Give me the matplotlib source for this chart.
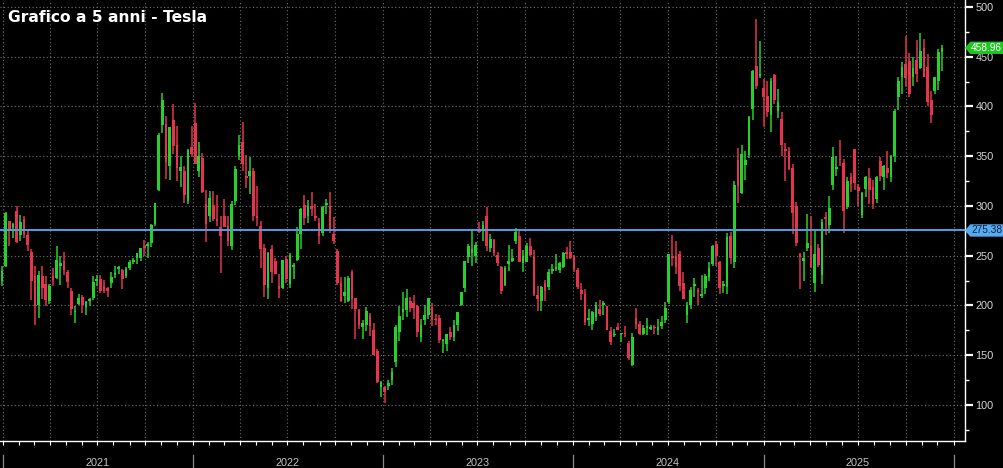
import numpy as np
import pandas as pd
import matplotlib
matplotlib.use("Agg")
import matplotlib.pyplot as plt
import matplotlib.dates as mdates
from matplotlib.patches import Polygon
from matplotlib.transforms import blended_transform_factory

# weekly candles (open, high, low, close)
ohlc_2020 = [(213, 232, 209, 232), (224, 225, 209, 220), (225, 240, 220, 235)]

ohlc_2021 = [
    (240, 294, 239, 293), (285, 285, 260, 275), (279, 283, 268, 282), (295, 300, 263, 264),
    (271, 291, 265, 284), (287, 290, 268, 272), (271, 276, 255, 261), (254, 257, 206, 225),
    (230, 240, 180, 199), (200, 235, 187, 231), (230, 240, 207, 218), (222, 230, 199, 206),
    (205, 222, 201, 220), (230, 238, 220, 226), (228, 260, 227, 246), (240, 250, 221, 243),
    (245, 254, 231, 236), (234, 236, 218, 224), (215, 218, 190, 196), (193, 199, 182, 193),
    (201, 212, 200, 208), (209, 211, 192, 200), (198, 205, 190, 203), (204, 208, 199, 207),
    (208, 230, 206, 224), (225, 231, 220, 226), (227, 231, 213, 215), (220, 226, 213, 215),
    (218, 219, 209, 215), (223, 234, 218, 229), (231, 240, 228, 233), (237, 240, 232, 239),
    (236, 237, 217, 227), (230, 239, 228, 237), (238, 246, 236, 244), (244, 248, 242, 245),
    (248, 253, 242, 253), (248, 258, 245, 258), (260, 266, 250, 258), (260, 264, 248, 262),
    (263, 282, 259, 281), (282, 303, 280, 303), (316, 373, 315, 371), (381, 414, 373, 407),
    (382, 390, 327, 344), (340, 379, 326, 379), (386, 402, 352, 360), (361, 380, 325, 338),
    (335, 350, 319, 339), (335, 340, 303, 311), (305, 357, 302, 356), (359, 380, 349, 352),
]

ohlc_2022 = [
    (383, 403, 342, 342), (335, 364, 329, 350), (348, 353, 313, 314), (302, 316, 264, 282),
    (290, 315, 284, 308), (301, 315, 285, 287), (287, 311, 280, 285), (279, 290, 233, 270),
    (290, 307, 279, 279), (280, 290, 260, 265), (260, 305, 256, 302), (305, 340, 301, 337),
    (350, 371, 346, 361), (364, 384, 335, 342), (330, 351, 318, 328), (330, 349, 312, 335),
    (335, 338, 285, 290), (290, 320, 280, 288), (280, 285, 238, 257), (258, 262, 209, 221),
    (218, 254, 207, 253), (257, 261, 223, 234), (245, 248, 232, 232), (220, 232, 208, 217),
    (218, 246, 217, 246), (247, 250, 223, 227), (222, 253, 218, 251), (239, 243, 227, 240),
    (246, 279, 245, 272), (272, 298, 257, 297), (301, 311, 281, 288), (290, 306, 283, 300),
    (300, 314, 290, 297), (290, 302, 285, 288), (283, 288, 262, 270), (273, 300, 270, 299),
    (301, 307, 292, 303), (300, 314, 273, 275), (272, 289, 262, 265), (255, 257, 221, 223),
    (223, 229, 203, 204), (210, 229, 202, 214), (205, 230, 203, 228), (234, 236, 196, 207),
    (208, 208, 166, 196), (195, 196, 176, 180), (178, 185, 166, 182), (180, 198, 174, 194),
    (190, 192, 169, 179), (175, 182, 150, 150), (154, 156, 122, 123), (118, 124, 108, 123),
]

ohlc_2023 = [
    (118, 119, 102, 113), (119, 125, 115, 122), (125, 137, 120, 133), (143, 180, 138, 178),
    (173, 199, 164, 189), (193, 214, 185, 196), (195, 217, 188, 208), (204, 209, 193, 197),
    (202, 211, 186, 197), (199, 200, 168, 173), (168, 186, 163, 180), (185, 200, 180, 190),
    (190, 208, 186, 208), (198, 202, 179, 185), (186, 191, 180, 185), (187, 190, 162, 165),
    (164, 166, 152, 164), (161, 171, 154, 171), (173, 178, 165, 168), (168, 185, 164, 180),
    (180, 193, 174, 193), (200, 214, 199, 214), (218, 245, 214, 245), (249, 262, 243, 260),
    (253, 276, 240, 257), (250, 264, 243, 261), (277, 284, 273, 274), (276, 285, 265, 281),
    (290, 299, 255, 260), (258, 272, 254, 267), (266, 267, 250, 253), (251, 254, 240, 243),
    (239, 240, 212, 215), (221, 240, 220, 238), (242, 261, 235, 245), (245, 257, 244, 248),
    (265, 278, 262, 274), (270, 275, 244, 244), (243, 256, 234, 250), (244, 263, 244, 260),
    (260, 268, 250, 251), (250, 256, 210, 212), (211, 220, 194, 207), (204, 220, 194, 219),
    (223, 226, 205, 215), (219, 237, 216, 234), (235, 242, 232, 235), (237, 252, 235, 238),
    (236, 244, 233, 243), (239, 254, 238, 253), (254, 259, 247, 252), (254, 265, 247, 248),
]

ohlc_2024 = [
    (250, 251, 234, 237), (236, 238, 217, 219), (216, 223, 206, 212), (212, 217, 180, 183),
    (185, 196, 179, 187), (181, 194, 175, 193), (188, 203, 184, 200), (196, 206, 189, 191),
    (200, 205, 190, 202), (199, 199, 175, 175), (174, 178, 160, 163), (170, 176, 168, 170),
    (178, 182, 175, 175), (171, 171, 163, 171), (172, 179, 168, 171), (162, 164, 145, 147),
    (140, 172, 139, 168), (187, 197, 176, 181), (181, 184, 170, 171), (171, 180, 170, 177),
    (177, 187, 170, 179), (176, 180, 175, 178), (178, 180, 171, 177), (175, 186, 170, 178),
    (179, 189, 176, 183), (185, 203, 182, 197), (203, 252, 201, 252), (250, 271, 240, 248),
    (250, 265, 232, 239), (252, 255, 215, 220), (223, 234, 207, 207), (190, 203, 182, 200),
    (200, 219, 196, 216), (220, 228, 209, 220), (215, 218, 200, 214), (210, 231, 208, 210),
    (218, 232, 212, 230), (229, 244, 225, 238), (242, 261, 240, 260), (262, 265, 240, 250),
    (244, 245, 212, 218), (220, 225, 213, 221), (219, 273, 212, 269), (270, 274, 242, 248),
    (244, 325, 238, 321), (346, 358, 303, 320), (313, 361, 312, 352), (341, 355, 326, 346),
    (351, 390, 348, 389), (397, 437, 386, 436), (441, 488, 418, 421), (431, 466, 429, 431),
    (419, 428, 379, 410),
]

ohlc_2025 = [
    (411, 426, 389, 394), (391, 429, 374, 426), (432, 433, 402, 406), (395, 418, 388, 404),
    (387, 394, 350, 361), (357, 363, 325, 355), (355, 359, 336, 337), (338, 342, 272, 293),
    (300, 304, 260, 263), (252, 253, 217, 249), (245, 254, 225, 248), (258, 292, 255, 263),
    (260, 290, 238, 239), (223, 275, 214, 252), (258, 262, 239, 241), (231, 287, 222, 284),
    (288, 294, 271, 287), (281, 310, 273, 298), (321, 359, 316, 349), (337, 350, 330, 339),
    (347, 366, 340, 346), (343, 347, 273, 295), (299, 329, 297, 325), (329, 333, 314, 322),
    (357, 357, 316, 323), (319, 322, 300, 315), (291, 314, 288, 313), (317, 330, 309, 329),
    (328, 338, 302, 316), (319, 326, 297, 302), (307, 330, 303, 329), (345, 349, 325, 330),
    (329, 341, 316, 340), (338, 355, 328, 333), (329, 351, 324, 350), (350, 397, 344, 395),
    (410, 430, 396, 426), (430, 445, 413, 440), (443, 471, 420, 429), (446, 454, 410, 413),
    (430, 450, 421, 439), (447, 467, 425, 433), (439, 474, 438, 456), (459, 468, 430, 430),
    (440, 453, 400, 404), (406, 416, 383, 391), (416, 430, 413, 430), (426, 458, 417, 455),
    (455, 462, 436, 459),
]

# first Monday of each block of weeks
block_starts = ["2020-12-14", "2021-01-04", "2022-01-03", "2023-01-02", "2024-01-01", "2025-01-06"]
blocks = [ohlc_2020, ohlc_2021, ohlc_2022, ohlc_2023, ohlc_2024, ohlc_2025]

last_price = 458.96
ref_level = 275.38
years = [2021, 2022, 2023, 2024, 2025]
title = "Grafico a 5 anni - Tesla"

GREEN = "#26d12a"
RED = "#e5344c"
BLUE = "#4f9fe8"
TXT = "#d6d6d6"

# build the weekly table
frames = []
for start, rows in zip(block_starts, blocks):
    df = pd.DataFrame(rows, columns=["open", "high", "low", "close"])
    df["date"] = pd.date_range(start, periods=len(rows), freq="W-MON") + pd.Timedelta(days=2)
    frames.append(df)
data = pd.concat(frames, ignore_index=True)
x = mdates.date2num(data["date"])
up = data["close"] >= data["open"]
colors = np.where(up, GREEN, RED)

fig = plt.figure(figsize=(10.04, 4.68), dpi=100, facecolor="black")
ax = fig.add_axes([0, 1 - 441 / 468, 965 / 1004, 441 / 468], facecolor="black")

# candles
ax.vlines(x, data["low"], data["high"], colors=colors, linewidth=1.1, zorder=3)
body = (data["close"] - data["open"]).abs().clip(lower=1.5)
ax.bar(x, body, bottom=np.minimum(data["open"], data["close"]), width=5.2,
       color=colors, linewidth=0, zorder=3)

ax.axhline(ref_level, color=BLUE, linewidth=1.4, zorder=4)

# axes limits
x0 = mdates.date2num(pd.Timestamp("2020-12-26"))
x1 = mdates.date2num(pd.Timestamp("2026-01-23"))
ax.set_xlim(x0, x1)
ax.set_ylim(63.8, 507)

# spines
for s in ["top", "left"]:
    ax.spines[s].set_visible(False)
for s in ["right", "bottom"]:
    ax.spines[s].set_color("white")
    ax.spines[s].set_linewidth(1.0)

# y axis on the right
ax.yaxis.tick_right()
ax.set_yticks(np.arange(100, 501, 50))
ax.set_yticks(np.arange(75, 501, 25), minor=True)
ax.tick_params(axis="y", which="major", length=6, width=1.6, color="white",
               labelcolor=TXT, labelsize=7.8, pad=1.5)
ax.tick_params(axis="y", which="minor", length=3, width=1.0, color="white")
for lab in ax.get_yticklabels():
    lab.set_family("Liberation Sans")

# x axis: quarterly grid, monthly ticks, no labels
ax.xaxis.set_major_locator(mdates.MonthLocator(bymonth=[1, 4, 7, 10]))
ax.xaxis.set_minor_locator(mdates.MonthLocator())
ax.tick_params(axis="x", which="both", length=3, width=0.8, color="white",
               labelbottom=False)

ax.grid(True, which="major", color="#707070", linestyle=(0, (1, 2.2)), linewidth=0.8, zorder=0)
ax.set_axisbelow(True)

# year labels and separators under the axis
tr = blended_transform_factory(ax.transData, ax.transAxes)
for yr in years:
    xm = mdates.date2num(pd.Timestamp(f"{yr}-07-01"))
    ax.text(xm, -0.05, str(yr), transform=tr, ha="center", va="center",
            color="#c4c4c4", fontsize=7.8, family="Liberation Sans")
for yr in years + [years[-1] + 1]:
    xb = mdates.date2num(pd.Timestamp(f"{yr}-01-01"))
    ax.axvline(xb, ymin=-0.064, ymax=-0.032, color="#8a8a8a", linewidth=0.9, clip_on=False)

# price callouts on the right axis
ty = blended_transform_factory(ax.transAxes, ax.transData)


def callout(value, face, text_color):
    h = 6.2
    pts = [(1.0, value), (1.0055, value + h), (1.05, value + h),
           (1.05, value - h), (1.0055, value - h)]
    ax.add_patch(Polygon(pts, closed=True, transform=ty, facecolor=face,
                         edgecolor="none", clip_on=False, zorder=6))
    ax.text(1.0062, value, f"{value:.2f}", transform=ty, ha="left", va="center",
            color=text_color, fontsize=7.3, family="Liberation Sans", zorder=7,
            clip_on=False)


callout(last_price, "#1fc61f", "white")
callout(ref_level, "#58aaf0", "#0b2440")

fig.text(8 / 1004, 1 - 18 / 468, title, color="white", fontsize=11.2,
         fontweight="bold", family="DejaVu Sans", ha="left", va="center")

fig.savefig("out.png", dpi=100, facecolor="black")
